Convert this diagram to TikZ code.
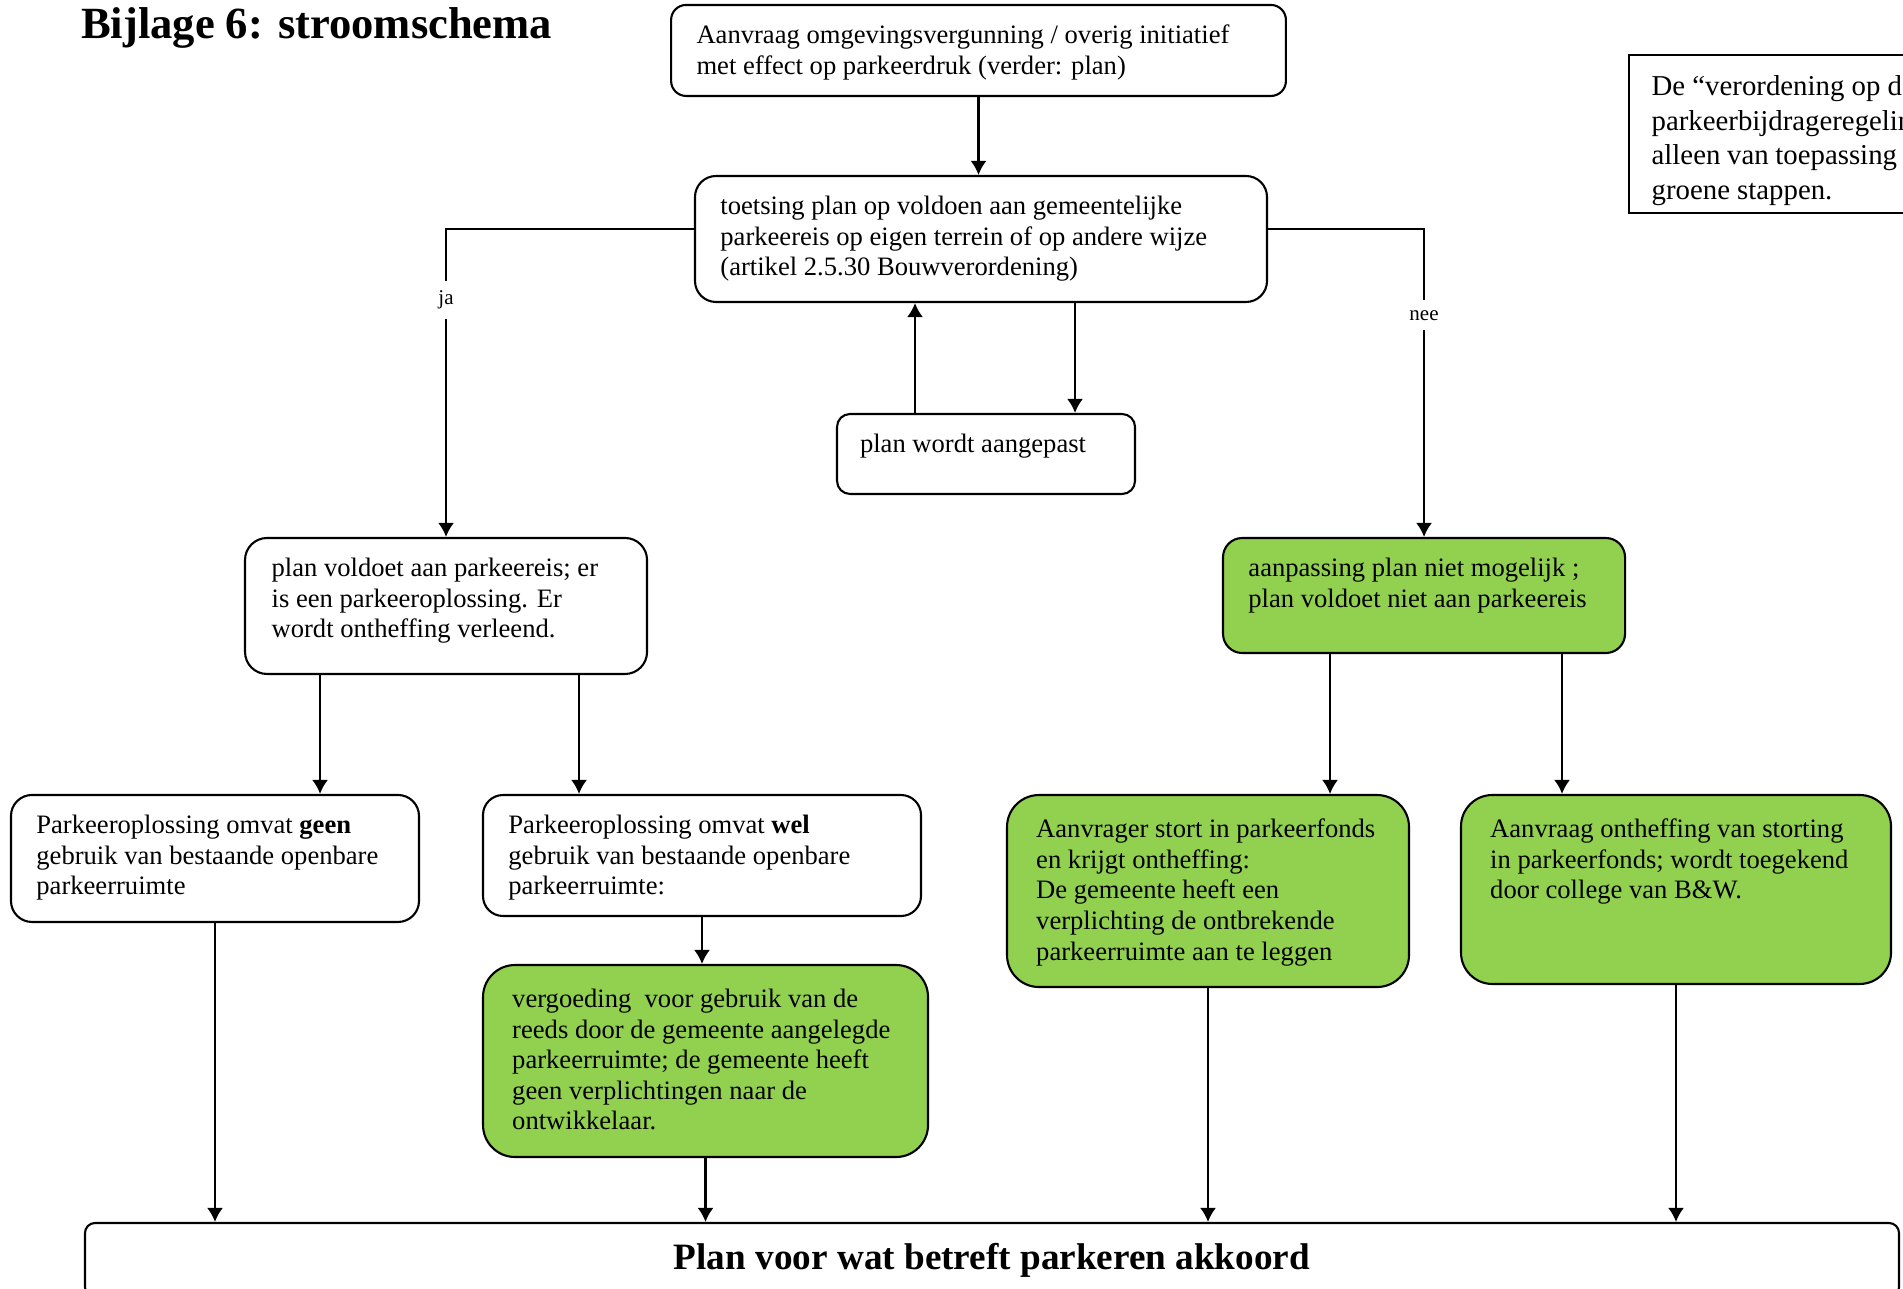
\documentclass[tikz,border=0pt]{standalone}
\usepackage{fontspec}
\setmainfont{Liberation Serif}
\usepackage{tikz}
\usetikzlibrary{arrows.meta,calc}
\definecolor{stapgroen}{HTML}{92D050}
\newcommand{\boxtext}[3]{\parbox[c][#2][t]{#1}{\raggedright #3}}

\begin{document}
\begin{tikzpicture}[>={Latex[length=7pt,width=8pt]}]
	\tikzstyle{stap}=[draw, line width=1.05pt, inner xsep=12.7pt, inner ysep=10pt, font=\fontsize{13.3}{15.3}\selectfont]
	\tikzstyle{groen}=[stap, fill=stapgroen]
	\tikzstyle{pijl}=[->, line width=1.1pt]
	\tikzstyle{keuze}=[fill=white, inner sep=5pt, font=\fontsize{10.5}{12}\selectfont]

	\useasboundingbox (0,0) rectangle (33.441,22.634);
	\clip (0,0) rectangle (33.441,22.634);

	\node (titel) [anchor=base west, font=\fontsize{22.3}{26}\selectfont\bfseries] at (1.30,21.949) {Bijlage 6: stroomschema};

	\node (aanvraag) [stap, rounded corners=7.5pt] at (17.195,21.747) {\boxtext{282pt}{25.5pt}{Aanvraag omgevingsvergunning / overig initiatief\\ met effect op parkeerdruk (verder: plan)}};
	\node (toetsing) [stap, rounded corners=10.5pt] at (17.239,18.434) {\boxtext{260.6pt}{43pt}{toetsing plan op voldoen aan gemeentelijke\\ parkeereis op eigen terrein of op andere wijze\\ (artikel 2.5.30 Bouwverordening)}};
	\node (aanpassen) [stap, rounded corners=6.5pt, inner xsep=11.5pt] at (17.327,14.656) {\boxtext{126pt}{20pt}{plan wordt aangepast}};

	\node (voldoet) [stap, rounded corners=11pt, inner xsep=13.3pt] at (7.838,11.985) {\boxtext{174.4pt}{48pt}{plan voldoet aan parkeereis; er\\ is een parkeeroplossing. Er\\ wordt ontheffing verleend.}};
	\node (nietmogelijk) [groen, rounded corners=9.6pt] at (25.024,12.169) {\boxtext{175.6pt}{37.5pt}{aanpassing plan niet mogelijk ;\\ plan voldoet niet aan parkeereis}};

	\node (geen) [stap, rounded corners=10.5pt] at (3.778,7.548) {\boxtext{178.6pt}{43.5pt}{Parkeeroplossing omvat \textbf{geen}\\ gebruik van bestaande openbare\\ parkeerruimte}};
	\node (wel) [stap, rounded corners=10pt] at (12.336,7.600) {\boxtext{193.6pt}{40.5pt}{Parkeeroplossing omvat \textbf{wel}\\ gebruik van bestaande openbare\\ parkeerruimte:}};
	\node (vergoeding) [groen, rounded corners=16pt, inner xsep=14.6pt, inner ysep=12pt] at (12.398,3.989) {\boxtext{193.3pt}{72pt}{vergoeding\ \ voor gebruik van de\\ reeds door de gemeente aangelegde\\ parkeerruimte; de gemeente heeft\\ geen verplichtingen naar de\\ ontwikkelaar.}};
	\node (storting) [groen, rounded corners=16pt, inner xsep=14.6pt, inner ysep=12pt] at (21.228,6.976) {\boxtext{171.8pt}{72pt}{Aanvrager stort in parkeerfonds\\ en krijgt ontheffing:\\ De gemeente heeft een\\ verplichting de ontbrekende\\ parkeerruimte aan te leggen}};
	\node (ontheffing) [groen, rounded corners=15.7pt, inner xsep=14.6pt, inner ysep=12pt] at (29.452,7.003) {\boxtext{185.8pt}{70.5pt}{Aanvraag ontheffing van storting\\ in parkeerfonds; wordt toegekend\\ door college van B\&W.}};

	\node (akkoord) [draw, line width=1.05pt, rounded corners=5pt, minimum width=907pt, minimum height=37pt, font=\fontsize{18.6}{22}\selectfont\bfseries] at (17.432,0.492) {Plan voor wat betreft parkeren akkoord};

	\node (noot) [draw, line width=1.05pt, inner xsep=11.3pt, inner ysep=10.3pt, font=\fontsize{14.4}{17.3}\selectfont] at (31.790,20.279) {\boxtext{157.4pt}{58.4pt}{De “verordening op de\\ parkeerbijdrageregeling” is\\ alleen van toepassing op de\\ groene stappen.}};

	\draw [pijl] (aanvraag) -- (aanvraag |- toetsing.north);

	\draw [pijl] ($(toetsing.west)+(0,0.176)$) -| (voldoet.north) node [keuze, pos=0.615] {ja};
	\draw [pijl] ($(toetsing.east)+(0,0.176)$) -| (nietmogelijk.north) node [keuze, pos=0.64] {nee};

	\coordinate (terug) at ($(aanpassen.north)+(-1.248,0)$);
	\coordinate (heen) at ($(aanpassen.north)+(1.564,0)$);
	\draw [pijl] (terug) -- (terug |- toetsing.south);
	\draw [pijl] (heen |- toetsing.south) -- (heen);

	\coordinate (geenpijl) at ($(voldoet.south)+(-2.214,0)$);
	\coordinate (welpijl) at ($(voldoet.south)+(2.337,0)$);
	\draw [pijl] (geenpijl) -- (geenpijl |- geen.north);
	\draw [pijl] (welpijl) -- (welpijl |- wel.north);

	\coordinate (stortpijl) at ($(nietmogelijk.south)+(-1.652,0)$);
	\coordinate (ontheffpijl) at ($(nietmogelijk.south)+(2.425,0)$);
	\draw [pijl] (stortpijl) -- (stortpijl |- storting.north);
	\draw [pijl] (ontheffpijl) -- (ontheffpijl |- ontheffing.north);

	\draw [pijl] (wel.south) -- (wel.south |- vergoeding.north);

	\draw [pijl] (geen.south) -- (geen.south |- akkoord.north);
	\draw [pijl] (vergoeding.south) -- (vergoeding.south |- akkoord.north);
	\draw [pijl] (storting.south) -- (storting.south |- akkoord.north);
	\draw [pijl] (ontheffing.south) -- (ontheffing.south |- akkoord.north);
\end{tikzpicture}
\end{document}
